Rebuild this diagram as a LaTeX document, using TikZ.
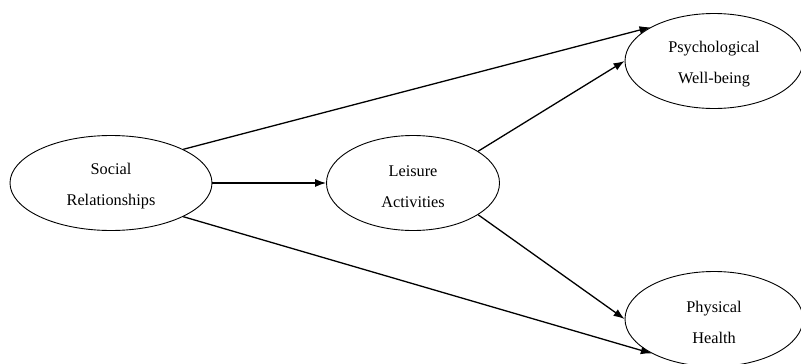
\documentclass[tikz,border=0pt]{standalone}
\usepackage{fontspec}
\setmainfont{Liberation Serif}
\usetikzlibrary{arrows.meta,shapes.geometric}
\begin{document}
\begin{tikzpicture}[x=1pt,y=-1pt,
  var/.style={draw,ellipse,line width=0.9pt,inner sep=0pt},
  vtext/.style={align=center,inner sep=0pt,yshift=-3.5pt,
    font=\fontsize{16.3}{31}\selectfont},
  path/.style={line width=1.3pt,-{Latex[length=11pt,width=8pt]}}]
\useasboundingbox (0,0) rectangle (801,364);
\node[var,minimum width=202pt,minimum height=95pt,
  label={[vtext]center:{Social\\Relationships}}] (s) at (111,183) {};
\node[var,minimum width=173pt,minimum height=95pt,
  label={[vtext]center:{Leisure\\Activities}}] (l) at (413,183) {};
\node[var,minimum width=178pt,minimum height=95pt,
  label={[vtext]center:{Psychological\\Well-being}}] (p) at (714,61) {};
\node[var,minimum width=178pt,minimum height=95pt,
  label={[vtext]center:{Physical\\Health}}] (h) at (714,319) {};
\draw[path] (s.east) -- (l.west);
\draw[path] (s.25) -- (p.152);
\draw[path] (s.-25) -- (h.-151);
\draw[path] (l.26) -- (p.west);
\draw[path] (l.-26) -- (h.west);
\end{tikzpicture}
\end{document}
